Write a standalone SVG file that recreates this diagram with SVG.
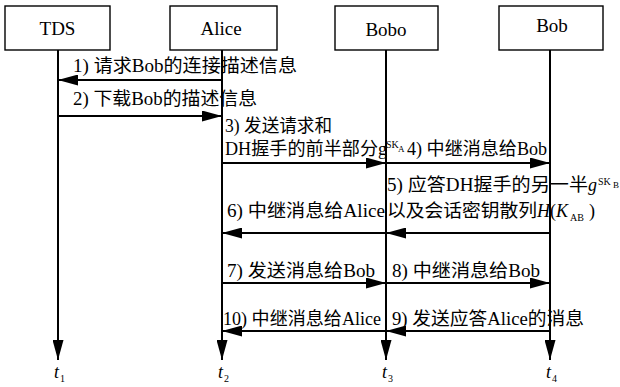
<svg xmlns="http://www.w3.org/2000/svg" width="620" height="387" viewBox="0 0 620 387">
<style>
.box{fill:#fff;stroke:#000;stroke-width:1.4}
.ln{fill:none;stroke:#000;stroke-width:2;marker-end:url(#ah)}
text{font-family:Liberation Serif, DejaVu Serif, Noto Sans CJK SC, serif}
.nl{font-size:19px;fill:#000;text-anchor:middle}
.t{font-size:18px;fill:#000}
.it{font-style:italic}
.sup{font-size:10px;fill:#000}
.sub{font-size:9px;fill:#000}
</style>
<defs>
<marker id="ah" markerUnits="userSpaceOnUse" markerWidth="20" markerHeight="11" refX="20" refY="5.5" orient="auto">
<path d="M0,0 L20,5.5 L0,11 z" fill="#000"/>
</marker>
</defs>
<rect width="620" height="387" fill="#fff"/>
<g id="TDS"><rect class="box" x="5" y="6" width="105" height="44"/><text class="nl" x="57.5" y="35">TDS</text></g>
<g id="Alice"><rect class="box" x="170" y="6" width="107" height="44"/><text class="nl" x="221" y="35">Alice</text></g>
<g id="Bobo"><rect class="box" x="335" y="6" width="103" height="44"/><text class="nl" x="386" y="36">Bobo</text></g>
<g id="Bob"><rect class="box" x="499" y="6" width="104" height="44"/><text class="nl" x="552" y="32">Bob</text></g>
<g id="connectors">
<line class="ln" x1="58" y1="50" x2="58" y2="360"/>
<line class="ln" x1="222" y1="50" x2="222" y2="360"/>
<line class="ln" x1="386" y1="50" x2="386" y2="360"/>
<line class="ln" x1="550" y1="50" x2="550" y2="360"/>
<line class="ln" x1="222" y1="80" x2="58" y2="80"/>
<line class="ln" x1="58" y1="116" x2="222" y2="116"/>
<line class="ln" x1="222" y1="163" x2="386" y2="163"/>
<line class="ln" x1="386" y1="163" x2="550" y2="163"/>
<line class="ln" x1="550" y1="233" x2="386" y2="233"/>
<line class="ln" x1="386" y1="233" x2="222" y2="233"/>
<line class="ln" x1="222" y1="283" x2="386" y2="283"/>
<line class="ln" x1="386" y1="283" x2="550" y2="283"/>
<line class="ln" x1="550" y1="331" x2="386" y2="331"/>
<line class="ln" x1="386" y1="331" x2="222" y2="331"/>
<text class="t" x="73" y="72" textLength="224" lengthAdjust="spacingAndGlyphs">1) 请求Bob的连接描述信息</text>
<text class="t" x="73" y="105" textLength="184" lengthAdjust="spacingAndGlyphs">2) 下载Bob的描述信息</text>
<text class="t" x="225" y="132" textLength="107" lengthAdjust="spacingAndGlyphs">3) 发送请求和</text>
<text class="t" x="225" y="155" textLength="153" lengthAdjust="spacingAndGlyphs">DH握手的前半部分</text>
<text class="t" x="378" y="155">g</text>
<text class="sup" x="386" y="148">SK</text>
<text class="sub" x="398" y="152">A</text>
<text class="t" x="407" y="155" textLength="140" lengthAdjust="spacingAndGlyphs">4) 中继消息给Bob</text>
<text class="t" x="387" y="191" textLength="201" lengthAdjust="spacingAndGlyphs">5) 应答DH握手的另一半</text>
<text class="t it" x="588" y="191">g</text>
<text class="sup" x="598" y="185">SK</text>
<text class="sub" x="613" y="188">B</text>
<text class="t" x="387" y="217" textLength="150" lengthAdjust="spacingAndGlyphs">以及会话密钥散列</text>
<text class="t" x="537" y="217"><tspan class="it">H</tspan>(<tspan class="it">K</tspan></text>
<text class="sub" x="570" y="221" style="font-size:10px">AB</text>
<text class="t" x="589" y="217">)</text>
<text class="t" x="227" y="217" textLength="158" lengthAdjust="spacingAndGlyphs">6) 中继消息给Alice</text>
<text class="t" x="227" y="277" textLength="148" lengthAdjust="spacingAndGlyphs">7) 发送消息给Bob</text>
<text class="t" x="392" y="277" textLength="148" lengthAdjust="spacingAndGlyphs">8) 中继消息给Bob</text>
<text class="t" x="392" y="325" textLength="192" lengthAdjust="spacingAndGlyphs">9) 发送应答Alice的消息</text>
<text class="t" x="223" y="325" textLength="158" lengthAdjust="spacingAndGlyphs">10) 中继消息给Alice</text>
</g>
<g id="time-labels">
<text class="t it" x="54" y="378">t</text><text class="sub" x="60" y="382" style="font-size:10px">1</text>
<text class="t it" x="218" y="378">t</text><text class="sub" x="224" y="382" style="font-size:10px">2</text>
<text class="t it" x="382" y="378">t</text><text class="sub" x="388" y="382" style="font-size:10px">3</text>
<text class="t it" x="546" y="378">t</text><text class="sub" x="552" y="382" style="font-size:10px">4</text>
</g>
</svg>
